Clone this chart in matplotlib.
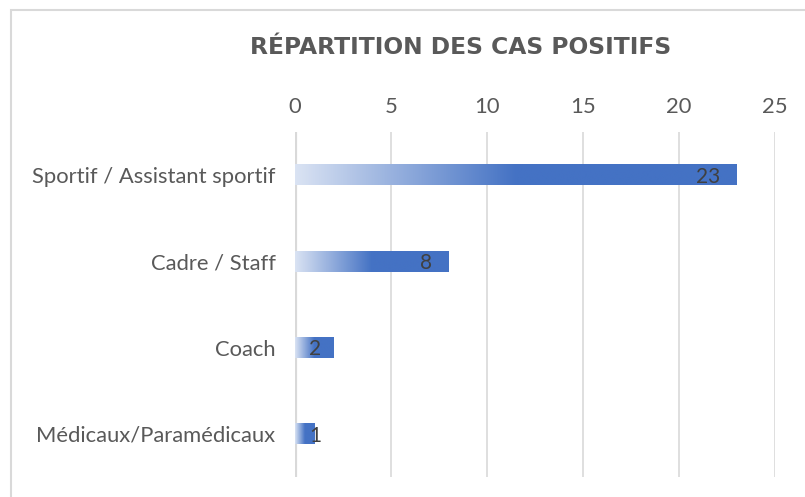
import numpy as np
import matplotlib.pyplot as plt
from matplotlib.colors import LinearSegmentedColormap
from matplotlib.patches import Rectangle

categories = ['Sportif / Assistant sportif', 'Cadre / Staff', 'Coach', 'Médicaux/Paramédicaux']
values = [23, 8, 2, 1]
title = 'RÉPARTITION DES CAS POSITIFS'
xticks = [0, 5, 10, 15, 20, 25]

plt.rcParams['font.family'] = ['Lato', 'DejaVu Sans']

fig = plt.figure(figsize=(8.05, 4.97), dpi=100)
ax = fig.add_axes([0.3665, 0.0402, 0.5962, 0.6942])

# light frame of the chart area
fig.patches.append(Rectangle((11 / 805, -0.1), 1.2, 1 - 10 / 497 + 0.1,
                             transform=fig.transFigure, fill=False,
                             edgecolor='#d9d9d9', linewidth=1.5))

# gradient: light to full blue across the first half of each bar
cmap = LinearSegmentedColormap.from_list('grad', ['#dae3f3', '#4472c4', '#4472c4'])
grad = np.linspace(0, 1, 256).reshape(1, -1)

ys = np.arange(len(categories))
h = 0.24
for y, v in zip(ys, values):
    ax.imshow(grad, cmap=cmap, extent=(0, v, y + h / 2, y - h / 2),
              aspect='auto', interpolation='bilinear', zorder=3)
    ax.text(max(v - 0.85, 1.35), y + 0.02, str(v), ha='right', va='center',
            fontsize=15, color='#404040', zorder=4)

ax.set_xlim(0, 25)
ax.set_ylim(len(categories) - 0.5, -0.5)
ax.set_xticks(xticks)
ax.set_yticks(ys)
ax.set_yticklabels(categories)
ax.xaxis.tick_top()
ax.tick_params(axis='both', length=0, labelsize=15.8, labelcolor='#595959')
ax.tick_params(axis='x', pad=11)
ax.tick_params(axis='y', pad=14)
for s in ax.spines.values():
    s.set_visible(False)
ax.grid(axis='x', color='#d9d9d9', linewidth=1.2, zorder=0)
ax.axvline(0, color='#d9d9d9', linewidth=3, zorder=1)
ax.set_axisbelow(True)

fig.text(461 / 805, 1 - 48 / 497, title, ha='center', va='center',
         fontsize=16.8, fontweight='bold', color='#595959',
         family=['DejaVu Sans'])

fig.savefig('out.png', dpi=100)
